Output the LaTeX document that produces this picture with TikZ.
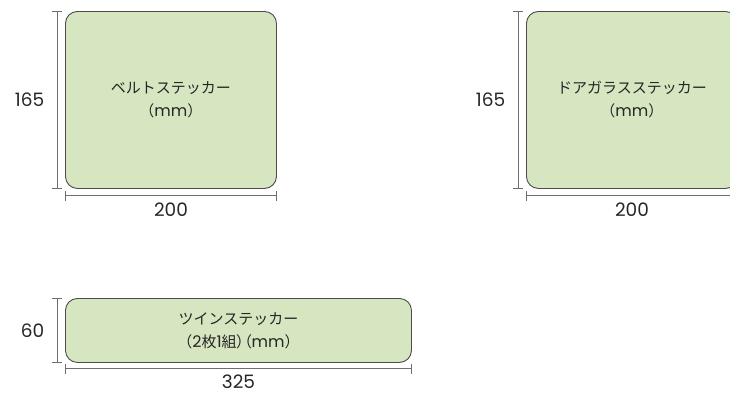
\documentclass[tikz,border=0pt]{standalone}
\usepackage{fontspec}
\usepackage{xcolor}
\usetikzlibrary{arrows.meta}
\setmainfont{Poppins}
\newfontfamily\jpfont{Noto Sans CJK JP}
\newfontfamily\jppalt[RawFeature=+palt]{Noto Sans CJK JP}
\newcommand{\lat}[1]{{\rmfamily\fontsize{16}{23}\selectfont #1}}
\definecolor{stickergreen}{RGB}{213,230,192}
\definecolor{stickerline}{RGB}{75,75,75}
\definecolor{dimgray}{RGB}{110,110,110}

\begin{document}
\begin{tikzpicture}[x=1pt,y=-1pt,
    sticker/.style = {draw=stickerline, fill=stickergreen, line width=0.9pt,
        rounded corners=12pt, inner sep=0pt, anchor=north west, align=center,
        font=\jpfont\fontsize{15}{23}\selectfont, text=black!85},
    dim/.style = {draw=dimgray, line width=0.9pt, {Bar[width=10pt]}-{Bar[width=10pt]}},
    size/.style = {font=\fontsize{18.5}{20}\selectfont, text=black!85}]
    \useasboundingbox (0,0) rectangle (730,394);
    \clip (0,0) rectangle (730,394);
    % belt sticker
    \node[sticker, minimum width=211pt, minimum height=177pt] (belt) at (65,11)
        {ベルトステッカー\\（\lat{mm}）};
    \draw[dim] ([xshift=-8pt]belt.north west) -- ([xshift=-8pt]belt.south west)
        node[midway, left=9pt, size] (belth) {165};
    \draw[dim] ([yshift=-7pt]belt.south west) -- ([yshift=-7pt]belt.south east)
        node[midway, below=3pt, size] (beltw) {200};
    % door glass sticker
    \node[sticker, minimum width=211pt, minimum height=177pt] (door) at (526,11)
        {ドアガラスステッカー\\（\lat{mm}）};
    \draw[dim] ([xshift=-8pt]door.north west) -- ([xshift=-8pt]door.south west)
        node[midway, left=9pt, size] (doorh) {165};
    \draw[dim] ([yshift=-7pt]door.south west) -- ([yshift=-7pt]door.south east)
        node[midway, below=3pt, size] (doorw) {200};
    % twin sticker
    \node[sticker, minimum width=346pt, minimum height=64pt] (twin) at (65,298)
        {ツインステッカー\\（\lat{2}枚\lat{1}組{\jppalt ）（}\lat{mm}）};
    \draw[dim] ([xshift=-8pt]twin.north west) -- ([xshift=-8pt]twin.south west)
        node[midway, left=9pt, size] (twinh) {60};
    \draw[dim] ([yshift=-6pt]twin.south west) -- ([yshift=-6pt]twin.south east)
        node[midway, below=2pt, size] (twinw) {325};
\end{tikzpicture}
\end{document}
